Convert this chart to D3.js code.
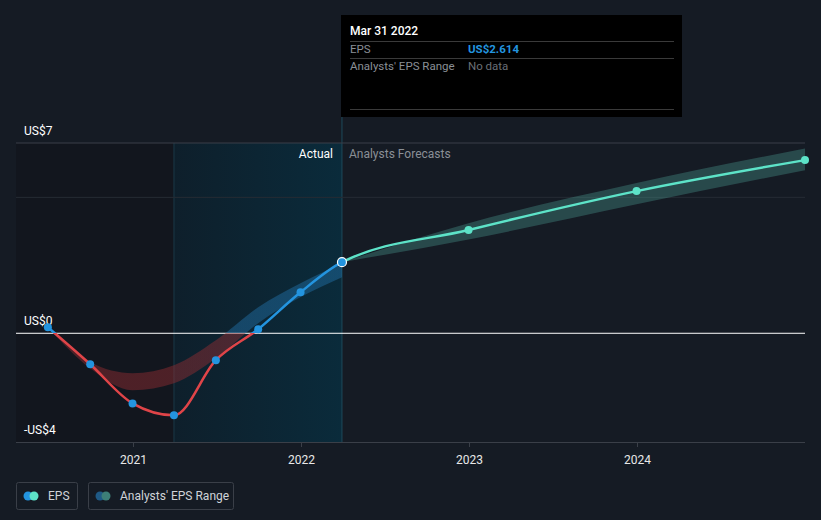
<!DOCTYPE html>
<html><head><meta charset="utf-8">
<script src="https://cdn.jsdelivr.net/npm/d3@7"></script>
<style>
html,body{margin:0;padding:0;background:#151b24;}
svg{display:block;font-family:Roboto,"Open Sans",sans-serif;}
</style></head>
<body><svg id="c" width="821" height="520"></svg>
<script>
// ---- data ----
const pastDates = ["2020-06-30","2020-09-30","2020-12-31","2021-03-31","2021-06-30","2021-09-30","2021-12-31","2022-03-31"];
const pastEPS = [0.22,-1.14,-2.58,-3.02,-0.99,0.15,1.51,2.614];
const pastRangeLow = [0.22,-1.29,-2.10,-1.84,-0.92,0.37,1.33,2.06];
const pastRangeHigh = [0.22,-1.07,-1.47,-1.18,-0.26,0.96,1.84,2.58];
const fcDates = ["2022-03-31","2022-12-31","2023-12-31","2024-12-31"];
const fcEPS = [2.614,3.80,5.23,6.37];
const fcLow = [2.614,3.45,4.75,6.00];
const fcHigh = [2.614,4.05,5.53,6.80];
const yTicks = [7,0,-4];
const yTickLabels = ["US$7","US$0","-US$4"];
const xTicks = ["2021-01-01","2022-01-01","2023-01-01","2024-01-01"];
const gridVals = [7,5];

const P = d3.timeParse("%Y-%m-%d");
const svg = d3.select("#c");
const x = d3.scaleTime().domain([P("2021-01-01"),P("2024-01-01")]).range([133,637]);
const y = d3.scaleLinear().domain([-4,7]).range([442,143]);
const L = 16, R = 805, T = 143, B = 442;

const defs = svg.append("defs");
const hl = defs.append("linearGradient").attr("id","hl").attr("x1","0").attr("x2","1");
hl.append("stop").attr("offset","0").attr("stop-color","#0e1f2b");
hl.append("stop").attr("offset","1").attr("stop-color","#0a2b3b");
const y0 = y(0);
function splitGrad(id, neg, pos){
  const g = defs.append("linearGradient").attr("id",id).attr("gradientUnits","userSpaceOnUse")
    .attr("x1",0).attr("x2",0).attr("y1",T).attr("y2",B);
  const o = (y0-T)/(B-T);
  g.append("stop").attr("offset",0).attr("stop-color",pos);
  g.append("stop").attr("offset",o).attr("stop-color",pos);
  g.append("stop").attr("offset",o).attr("stop-color",neg);
  g.append("stop").attr("offset",1).attr("stop-color",neg);
}
splitGrad("lineG","#e04448","#2394df");
splitGrad("bandG","rgba(150,45,50,0.45)","rgba(35,120,180,0.42)");

const dCut = P("2021-03-31"), dNow = P("2022-03-31");
defs.append("clipPath").attr("id","clipPast").append("rect").attr("x",0).attr("y",0).attr("width",x(dNow)).attr("height",520);
defs.append("clipPath").attr("id","clipFc").append("rect").attr("x",x(dNow)).attr("y",0).attr("width",821).attr("height",520);

// background regions
svg.append("rect").attr("x",L).attr("y",T).attr("width",x(dCut)-L).attr("height",B-T).attr("fill","#12161e");
svg.append("rect").attr("x",x(dCut)).attr("y",T).attr("width",x(dNow)-x(dCut)).attr("height",B-T).attr("fill","url(#hl)");
svg.append("line").attr("x1",x(dCut)).attr("x2",x(dCut)).attr("y1",T).attr("y2",B).attr("stroke","#1b3a48").attr("stroke-width",1);
svg.append("line").attr("x1",x(dNow)).attr("x2",x(dNow)).attr("y1",117).attr("y2",B).attr("stroke","#1d4a5a").attr("stroke-width",1);

// grid
svg.selectAll(".grid").data(gridVals).enter().append("line")
  .attr("x1",L).attr("x2",R).attr("y1",d=>y(d)).attr("y2",d=>y(d))
  .attr("stroke",(d,i)=>i===0?"#3a3f48":"#262b33").attr("stroke-width",1);
svg.append("line").attr("x1",L).attr("x2",R).attr("y1",y0).attr("y2",y0).attr("stroke","#ffffff").attr("stroke-width",1);

// x axis
const xa = svg.append("g").attr("transform",`translate(0,${B})`)
  .call(d3.axisBottom(x).tickValues(xTicks.map(P)).tickFormat(d3.timeFormat("%Y")).tickSize(5).tickPadding(8));
xa.select(".domain").attr("d",`M${L},0.5H${R}`).attr("stroke","#3a3f48");
xa.selectAll(".tick line").attr("stroke","#3a3f48");
xa.selectAll(".tick text").attr("fill","#e8e8e8").attr("font-size",12).attr("font-family","Roboto,sans-serif");

// y labels
svg.selectAll(".yl").data(yTicks).enter().append("text")
  .attr("x",24).attr("y",d=>y(d)-8).attr("fill","#ffffff").attr("font-size",12)
  .text((d,i)=>yTickLabels[i]);

// bands
const pastRows = pastDates.map((d,i)=>({d:P(d),v:pastEPS[i],lo:pastRangeLow[i],hi:pastRangeHigh[i]}));
const fcRows = fcDates.map((d,i)=>({d:P(d),v:fcEPS[i],lo:fcLow[i],hi:fcHigh[i]}));
const area = d3.area().x(d=>x(d.d)).y0(d=>y(d.lo)).y1(d=>y(d.hi)).curve(d3.curveMonotoneX);
svg.append("path").datum(pastRows).attr("d",area).attr("fill","url(#bandG)");
svg.append("path").datum(fcRows).attr("d",area).attr("fill","rgba(80,170,160,0.32)");

// lines: one continuous series, clipped into actual / forecast parts
const allRows = pastRows.concat(fcRows.slice(1));
const line = d3.line().x(d=>x(d.d)).y(d=>y(d.v)).curve(d3.curveMonotoneX);
svg.append("path").datum(allRows).attr("d",line).attr("clip-path","url(#clipPast)").attr("fill","none").attr("stroke","url(#lineG)").attr("stroke-width",2.5);
svg.append("path").datum(allRows).attr("d",line).attr("clip-path","url(#clipFc)").attr("fill","none").attr("stroke","#5de3c8").attr("stroke-width",2.5);

// points
svg.selectAll(".pp").data(pastRows.slice(0,-1)).enter().append("circle")
  .attr("cx",d=>x(d.d)).attr("cy",d=>y(d.v)).attr("r",4).attr("fill","#2394df");
svg.selectAll(".fp").data(fcRows.slice(1)).enter().append("circle")
  .attr("cx",d=>x(d.d)).attr("cy",d=>y(d.v)).attr("r",4).attr("fill","#5de3c8");
const last = pastRows[pastRows.length-1];
svg.append("circle").attr("cx",x(last.d)).attr("cy",y(last.v)).attr("r",4.5).attr("fill","#2394df").attr("stroke","#ffffff").attr("stroke-width",1.2);

// Actual / forecast labels
svg.append("text").attr("x",x(dNow)-9).attr("y",158).attr("text-anchor","end").attr("fill","#ffffff").attr("font-size",12).text("Actual");
svg.append("text").attr("x",x(dNow)+7).attr("y",158).attr("fill","#8a8f96").attr("font-size",12).text("Analysts Forecasts");

// tooltip
const tt = svg.append("g");
tt.append("rect").attr("x",341).attr("y",15).attr("width",341).attr("height",102).attr("fill","#000000");
tt.append("text").attr("x",350).attr("y",35).attr("fill","#ffffff").attr("font-size",12).attr("font-weight",500).text("Mar 31 2022");
[41,58,109].forEach(v=>tt.append("line").attr("x1",350).attr("x2",674).attr("y1",v+0.5).attr("y2",v+0.5).attr("stroke","#3a3a3a"));
tt.append("text").attr("x",350).attr("y",53).attr("fill","#8a8f96").attr("font-size",11.5).text("EPS");
tt.append("text").attr("x",468).attr("y",53).attr("fill","#2394df").attr("font-size",11.5).attr("font-weight",700).text("US$" + d3.format(".3f")(pastEPS[pastEPS.length-1]));
tt.append("text").attr("x",350).attr("y",70).attr("fill","#8a8f96").attr("font-size",11.5).text("Analysts' EPS Range");
tt.append("text").attr("x",468).attr("y",70).attr("fill","#6a6f76").attr("font-size",11.5).text("No data");

// legend
const lg = svg.append("g");
function legendItem(x0,w,c1,c2,label){
  lg.append("rect").attr("x",x0+0.5).attr("y",482.5).attr("width",w).attr("height",27).attr("rx",2).attr("fill","none").attr("stroke","#3a3f48");
  lg.append("circle").attr("cx",x0+12).attr("cy",496).attr("r",4.5).attr("fill",c1);
  lg.append("circle").attr("cx",x0+18).attr("cy",496).attr("r",4.5).attr("fill",c2);
  lg.append("text").attr("x",x0+32).attr("y",500).attr("fill","#d0d3d8").attr("font-size",12).text(label);
}
legendItem(16,61,"#2394df","#5de3c8","EPS");
legendItem(88,145,"#1f5a86","#3d7f78","Analysts' EPS Range");
</script></body></html>
